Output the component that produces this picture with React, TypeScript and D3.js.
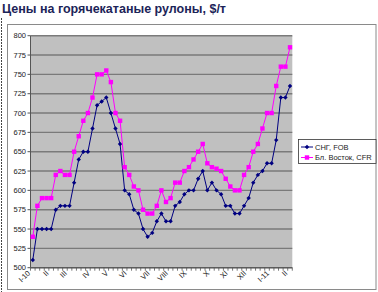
import React from "react";
import * as d3 from "d3";

const TITLE = "Цены на горячекатаные рулоны, $/т";
const SERIES_NAMES = ["СНГ, FOB", "Бл. Восток, CFR"];

const cisFob = [
  510, 550, 550, 550, 550, 575, 580, 580, 580, 610, 640, 650, 650, 680, 710, 715, 720, 700, 680, 660,
  600, 595, 575, 570, 550, 540, 545, 560, 570, 560, 560, 580, 585, 595, 600, 600, 615, 625, 600, 610,
  600, 595, 580, 580, 570, 570, 580, 590, 610, 620, 625, 635, 635, 665, 720, 720, 735,
];
const meCfr = [
  540, 580, 590, 590, 590, 620, 625, 620, 620, 650, 670, 690, 700, 720, 750, 750, 755, 740, 700, 690,
  630, 620, 605, 600, 575, 570, 570, 580, 600, 585, 590, 610, 610, 625, 630, 640, 650, 660, 635, 630,
  628, 625, 615, 605, 600, 600, 620, 630, 650, 660, 680, 700, 700, 735, 760, 760, 785,
];
const monthLabels = ["I-10", "II", "III", "IV", "V", "VI", "VII", "VIII", "IX", "X", "XI", "XII", "I-11", "II"];
const monthLabelIdx = [0, 4, 8, 13, 17, 21, 26, 30, 34, 39, 43, 47, 52, 56];
const yTicks = [500, 525, 550, 575, 600, 625, 650, 675, 700, 725, 750, 775, 800];

const FONT = "'Liberation Sans', Arial, sans-serif";

export default function App() {
  const W = 378, H = 292;
  const left = 30.5, right = 292.3, top = 35.7, bottom = 267.7;
  const idx = d3.range(cisFob.length);
  const x = d3.scaleBand<number>().domain(idx).range([left, right]).padding(0);
  const cx = (i: number) => (x(i) as number) + x.bandwidth() / 2;
  const y = d3.scaleLinear().domain([500, 800]).range([bottom, top]);
  const line = d3.line<number>().x((_, i) => cx(i)).y((d) => y(d));
  const navy = "#000080";
  const pink = "#ff00ff";
  const diamond = (px: number, py: number, r = 2.2) =>
    `M${px},${py - r}L${px + r},${py}L${px},${py + r}L${px - r},${py}Z`;

  return (
    <svg width={W} height={H} style={{ position: "absolute", left: 0, top: 0, background: "#fff" }}
      fontFamily={FONT}>
      <line x1={1.5} y1={18} x2={1.5} y2={H} stroke="#444" strokeWidth={1} strokeDasharray="2,1" />
      <text x={2} y={13} fontSize={12} fontWeight="bold" fill="#1c2458" textLength={224}
        lengthAdjust="spacingAndGlyphs">{TITLE}</text>
      <rect x={7.5} y={24.5} width={368.5} height={265} fill="#fff" stroke="#8a8a8a" strokeWidth={1} />
      <rect x={left} y={top} width={right - left} height={bottom - top} fill="#c0c0c0" />
      {yTicks.map((t) => (
        <g key={t}>
          <line x1={left} x2={right} y1={y(t)} y2={y(t)} stroke="#7a7a7a" strokeWidth={1.4} />
          <line x1={left - 3} x2={left} y1={y(t)} y2={y(t)} stroke="#555" strokeWidth={1} />
          <text x={26} y={y(t) + 2.5} fontSize={7.5} textAnchor="end" fill="#222">{t}</text>
        </g>
      ))}
      <line x1={left} x2={left} y1={top} y2={bottom} stroke="#555" strokeWidth={1} />
      <line x1={left} x2={right} y1={bottom} y2={bottom} stroke="#555" strokeWidth={1} />
      {d3.range(cisFob.length + 1).map((i) => {
        const px = left + i * x.bandwidth();
        return <line key={i} x1={px} x2={px} y1={bottom} y2={bottom + 3} stroke="#555" strokeWidth={0.8} />;
      })}
      {monthLabels.map((m, k) => {
        const px = cx(monthLabelIdx[k]) - 2;
        const py = bottom + 6;
        return (
          <text key={k} x={px} y={py} fontSize={7.5} fill="#222" textAnchor="end"
            transform={`rotate(-45 ${px} ${py})`}>{m}</text>
        );
      })}
      <path d={line(cisFob) || ""} fill="none" stroke={navy} strokeWidth={1} />
      {cisFob.map((v, i) => <path key={i} d={diamond(cx(i), y(v))} fill={navy} />)}
      <path d={line(meCfr) || ""} fill="none" stroke={pink} strokeWidth={1} />
      {meCfr.map((v, i) => (
        <rect key={i} x={cx(i) - 2.2} y={y(v) - 2.2} width={4.4} height={4.4} fill={pink} />
      ))}
      <g>
        <rect x={298.5} y={139.5} width={77.5} height={24} fill="#fff" stroke="#333" strokeWidth={0.8} />
        <line x1={301} x2={313} y1={147} y2={147} stroke={navy} strokeWidth={1} />
        <path d={diamond(307, 147)} fill={navy} />
        <text x={315} y={149.7} fontSize={7.5} fill="#222">{SERIES_NAMES[0]}</text>
        <line x1={301} x2={313} y1={157.5} y2={157.5} stroke={pink} strokeWidth={1} />
        <rect x={304.8} y={155.3} width={4.4} height={4.4} fill={pink} />
        <text x={315} y={160.2} fontSize={7.5} fill="#222">{SERIES_NAMES[1]}</text>
      </g>
    </svg>
  );
}
